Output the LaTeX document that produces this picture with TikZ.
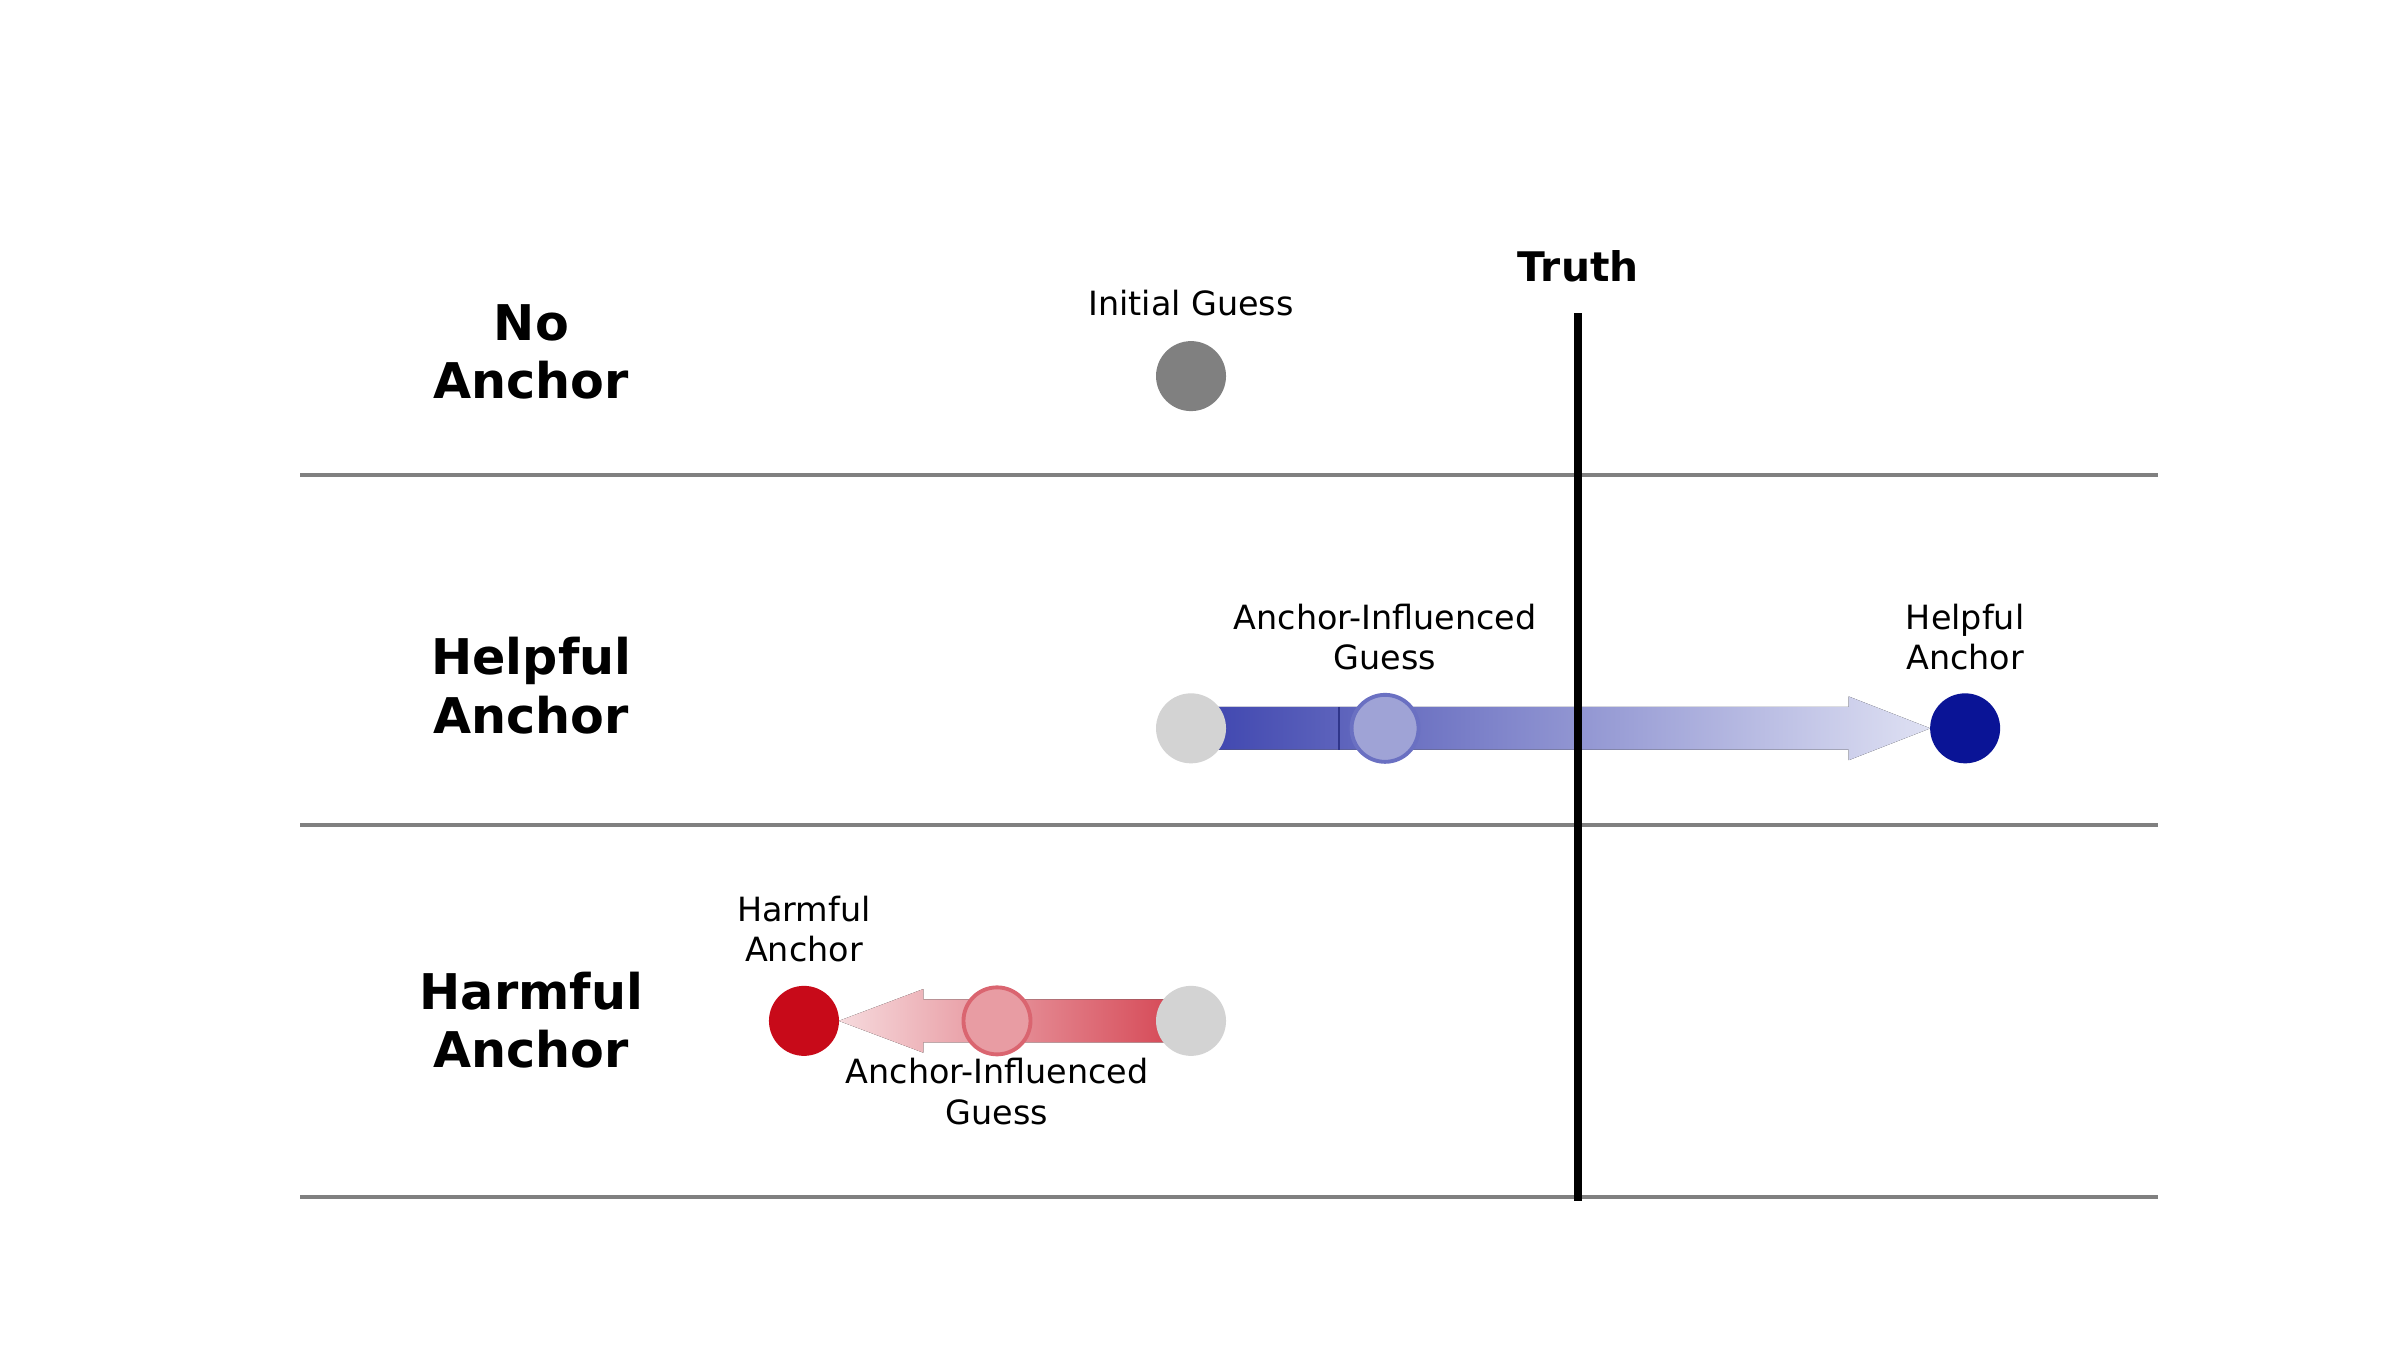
\documentclass[tikz,border=0pt]{standalone}
\usepackage{fontspec}
\setmainfont{DejaVu Sans}
\usetikzlibrary{calc}
\definecolor{sepgray}{HTML}{808080}
\definecolor{initgray}{HTML}{808080}
\definecolor{lightg}{HTML}{D3D3D3}
\definecolor{navy}{HTML}{0A1496}
\definecolor{bluedark}{HTML}{3C43AE}
\definecolor{bluelight}{HTML}{DFE1F3}
\definecolor{bluemid}{HTML}{9FA3D6}
\definecolor{blueedge}{HTML}{6A70C2}
\definecolor{harmred}{HTML}{C80A19}
\definecolor{reddark}{HTML}{D4414F}
\definecolor{redlight}{HTML}{F6DADD}
\definecolor{redmid}{HTML}{E89CA3}
\definecolor{rededge}{HTML}{DA6570}
\begin{document}
\begin{tikzpicture}[x=0.00995cm,y=-0.00995cm]
\tikzset{
  dot/.style={circle, inner sep=0pt, minimum size=0.7cm},
  lab/.style={font=\fontsize{9.5}{11.4}\selectfont, align=center, inner sep=0pt},
  rowlab/.style={font=\fontsize{14}{16.6}\selectfont\bfseries, align=center, inner sep=0pt},
  sepline/.style={draw=sepgray, line width=1.1pt},
  truthline/.style={draw=black, line width=2.3pt},
}
\useasboundingbox (0,0) rectangle (2412.06,1356.78);
% separators
\coordinate (s1l) at (302,477); \coordinate (s1r) at (2169,477);
\coordinate (s2l) at (302,829); \coordinate (s2r) at (2169,829);
\coordinate (s3l) at (302,1203); \coordinate (s3r) at (2169,1203);
\draw[sepline] (s1l) -- (s1r);
\draw[sepline] (s2l) -- (s2r);
\draw[sepline] (s3l) -- (s3r);
% truth
\coordinate (tt) at (1586,315); \coordinate (tb) at (1586,1207);
\node[font=\fontsize{11.6}{13}\selectfont\bfseries, inner sep=0pt] (truth) at (1586,268) {Truth};
% row labels
\node[rowlab] (r1) at (534,354) {No\\Anchor};
\node[rowlab] (r2) at (534,689) {Helpful\\Anchor};
\node[rowlab] (r3) at (534,1025) {Harmful\\Anchor};
% row 1
\node[dot, fill=initgray] (ig) at (1197,378) {};
\node[lab] (igl) at (1197,305) {Initial Guess};
% row 2 nodes (positions)
\coordinate (g2) at (1197,732);
\coordinate (ha) at (1975,732);
% helpful arrow
\fill[left color=bluedark, right color=bluelight]
  ($(g2)+(0,-21.5)$) -- (1858,710.5) -- (1858,700) -- ($(ha)+(-35,0)$)
  -- (1858,764) -- (1858,753.5) -- ($(g2)+(0,21.5)$) -- cycle;
\draw[bluedark!80!black, line width=0.5pt] (1346,710.5) -- (1346,753.5);
\draw[truthline] (tt) -- (tb);
\node[dot, fill=lightg] (g2n) at (g2) {};
\node[dot, fill=bluemid, draw=blueedge, line width=1.1pt, minimum size=0.67cm] (ai2) at (1392,732) {};
\node[dot, fill=navy] (ha2) at (ha) {};
\node[lab] (ai2l) at (1392,640) {Anchor-Influenced\\Guess};
\node[lab] (ha2l) at (1975,640) {Helpful\\Anchor};
% row 3
\coordinate (g3) at (1197,1026);
\coordinate (hr) at (808,1026);
\fill[left color=redlight, right color=reddark]
  ($(g3)+(0,-21.5)$) -- (928,1004.5) -- (928,994) -- ($(hr)+(35,0)$)
  -- (928,1058) -- (928,1047.5) -- ($(g3)+(0,21.5)$) -- cycle;
\node[dot, fill=lightg] (g3n) at (g3) {};
\node[dot, fill=redmid, draw=rededge, line width=1.1pt, minimum size=0.67cm] (ai3) at (1002,1026) {};
\node[dot, fill=harmred] (hr3) at (hr) {};
\node[lab] (hr3l) at (808,934) {Harmful\\Anchor};
\node[lab] (ai3l) at (1002,1097) {Anchor-Influenced\\Guess};
\end{tikzpicture}
\end{document}
